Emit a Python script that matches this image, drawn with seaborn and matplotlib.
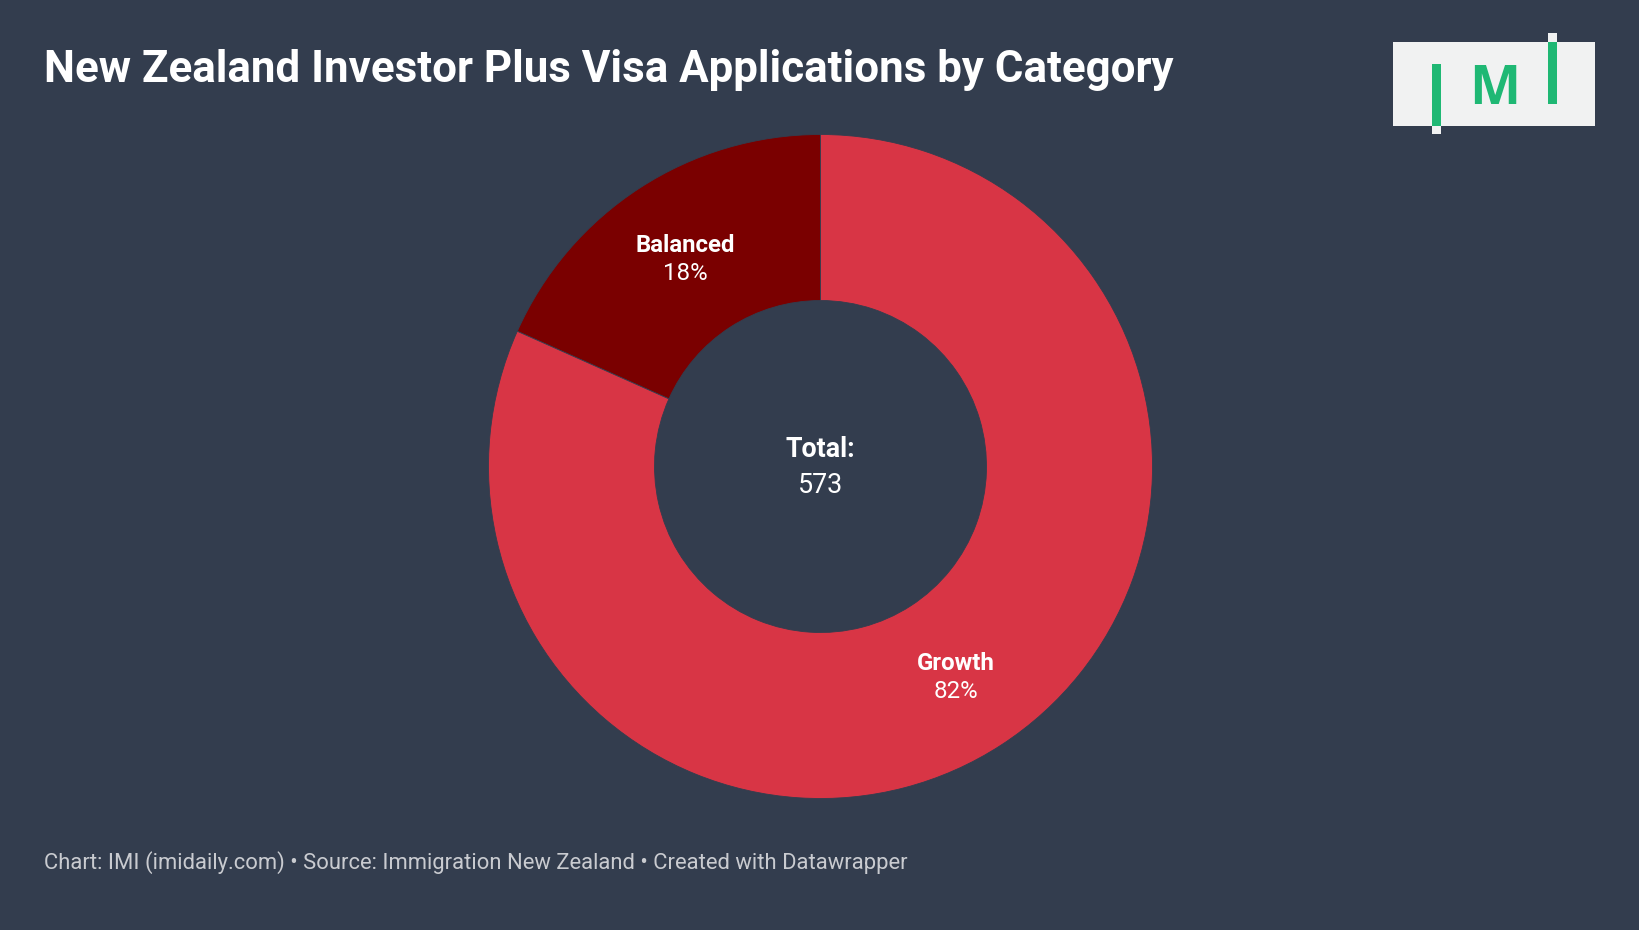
import matplotlib
matplotlib.use("Agg")
import matplotlib.pyplot as plt
import seaborn as sns
import numpy as np
from matplotlib.patches import Rectangle

# ---- data ----
categories = ["Growth", "Balanced"]
values = [468, 105]
colors = ["#d83545", "#7a0000"]
title = "New Zealand Investor Plus Visa Applications by Category"
footer = "Chart: IMI (imidaily.com) \u2022 Source: Immigration New Zealand \u2022 Created with Datawrapper"
total_label = "Total:"

BG = "#333d4e"
W, H = 1640, 930

sns.set_theme(style="white")
plt.rcParams["font.family"] = ["Roboto", "DejaVu Sans"]

fig = plt.figure(figsize=(W / 100, H / 100), dpi=100, facecolor=BG)

# donut axes
cx, cy, R = 820.5, 466.5, 332.0
ax = fig.add_axes([(cx - R) / W, (H - cy - R) / H, 2 * R / W, 2 * R / H])
ax.set_facecolor(BG)
ax.axis("off")

# pie: Balanced goes counter-clockwise from 12 o'clock; Growth fills the rest
order = [1, 0]
vals = [values[i] for i in order]
cols = [colors[i] for i in order]
wedges, _ = ax.pie(vals, colors=cols, startangle=90, counterclock=True,
                   radius=1.0, wedgeprops=dict(width=0.5, edgecolor=BG, linewidth=0.6))
ax.set_xlim(-1, 1)
ax.set_ylim(-1, 1)

total = sum(values)
for w, i in zip(wedges, order):
    mid = np.deg2rad((w.theta1 + w.theta2) / 2)
    x, y = 0.75 * np.cos(mid), 0.75 * np.sin(mid) - 0.006
    ax.text(x, y + 0.042, categories[i], ha="center", va="center", color="white",
            fontsize=17.3, fontweight="bold")
    ax.text(x, y - 0.042, f"{round(values[i] / total * 100)}%", ha="center", va="center",
            color="white", fontsize=17.3)

ax.text(0, 0.05, total_label, ha="center", va="center", color="white", fontsize=19.4, fontweight="bold")
ax.text(0, -0.056, f"{total}", ha="center", va="center", color="white", fontsize=19.4)

# title & footer
fig.text(44 / W, 1 - 70 / H, title, ha="left", va="center", color="white",
         fontsize=31.6, fontweight="bold")
fig.text(44 / W, 1 - 863 / H, footer, ha="left", va="center", color="#c9cbd0", fontsize=15.8)

# logo
def frect(x0, y0, x1, y1, c):
    fig.patches.append(Rectangle((x0 / W, 1 - y1 / H), (x1 - x0) / W, (y1 - y0) / H,
                                 transform=fig.transFigure, facecolor=c, edgecolor="none"))

GREEN = "#1fb874"
LG = "#f1f2f2"
frect(1393, 42, 1595, 126, LG)
frect(1432, 64, 1441, 126, GREEN)
frect(1432, 126, 1441, 134, LG)
frect(1548, 42, 1557, 104, GREEN)
frect(1548, 33, 1557, 42, LG)
fig.text(1494.5 / W, 1 - 90 / H, "M", ha="center", va="center", color=GREEN,
         fontsize=39, fontweight="bold", family=["Open Sans", "DejaVu Sans"])

fig.savefig("out.png", dpi=100, facecolor=BG)
